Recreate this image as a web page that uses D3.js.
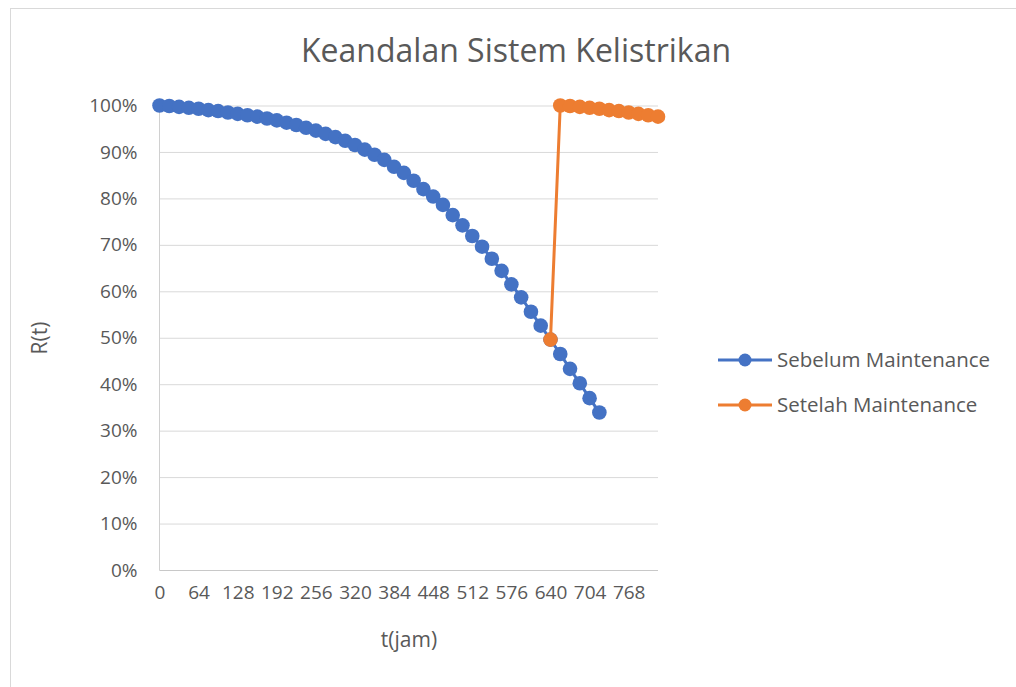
<!DOCTYPE html>
<meta charset="utf-8">
<style>
body { margin: 0; background: #fff; }
text { font-family: "Open Sans", sans-serif; fill: #595959; }
.title { font-size: 32px; }
.tick text { font-size: 19px; fill: #595959; }
.axis-title { font-size: 21px; }
.legend text { font-size: 20.5px; }
</style>
<svg width="1016" height="687"></svg>
<script src="https://cdn.jsdelivr.net/npm/d3@7"></script>
<script>

// t (jam) every 16 hours
var hours = d3.range(0, 832, 16);

// reliability before maintenance, %
var sebelum = [100.0, 99.9, 99.7, 99.5, 99.3, 99.0, 98.8, 98.5, 98.2, 97.9,
  97.6, 97.2, 96.8, 96.3, 95.8, 95.2, 94.6, 93.9, 93.2, 92.4,
  91.5, 90.5, 89.4, 88.3, 86.8, 85.5, 83.8, 82.0, 80.4, 78.6,
  76.4, 74.2, 71.9, 69.6, 67.0, 64.4, 61.5, 58.7, 55.6, 52.6,
  49.6, 46.5, 43.3, 40.2, 37.0, 33.9];

// reliability after maintenance (starts at index 40)
var setelahStart = 40;
var setelah = [49.6, 100.0, 99.9, 99.7, 99.5, 99.3, 99.0, 98.8, 98.5, 98.2, 97.9, 97.6];

var seriesNames = ["Sebelum Maintenance", "Setelah Maintenance"];
var colors = ["#4472C4", "#ED7D31"];
var yTicks = [0, 10, 20, 30, 40, 50, 60, 70, 80, 90, 100];

var svg = d3.select("svg");

// chart frame
svg.append("rect")
    .attr("x", 10.5).attr("y", 8.5)
    .attr("width", 1012).attr("height", 700)
    .attr("fill", "#fff").attr("stroke", "#d9d9d9");

var x = d3.scalePoint()
    .domain(d3.range(hours.length))
    .range([159.5, 658]);

var y = d3.scaleLinear()
    .domain([0, 100])
    .range([570, 105.5]);

// y axis + gridlines
var yAxis = svg.append("g")
    .attr("transform", "translate(159.5,0)")
    .call(d3.axisLeft(y)
      .tickValues(yTicks)
      .tickSize(-(658 - 159.5))
      .tickPadding(22)
      .tickFormat(function(d) { return d + "%"; }));
yAxis.select(".domain").remove();
yAxis.selectAll(".tick line").attr("stroke", "#d9d9d9");

// x axis
var xAxis = svg.append("g")
    .attr("transform", "translate(0,570)")
    .call(d3.axisBottom(x)
      .tickValues(d3.range(0, hours.length, 4))
      .tickSize(0)
      .tickPadding(16)
      .tickFormat(function(i) { return hours[i]; }));
xAxis.select(".domain").remove();

// axis lines
svg.append("line")
    .attr("x1", 159.5).attr("x2", 159.5).attr("y1", 105.5).attr("y2", 570)
    .attr("stroke", "#d0d0d0");
svg.append("line")
    .attr("x1", 159.5).attr("x2", 658).attr("y1", 570.5).attr("y2", 570.5)
    .attr("stroke", "#c8c8c8");

var line = d3.line()
    .x(function(d) { return x(d.i); })
    .y(function(d) { return y(d.v); });

var data = [
  sebelum.map(function(v, i) { return {i: i, v: v}; }),
  setelah.map(function(v, i) { return {i: i + setelahStart, v: v}; })
];

data.forEach(function(s, k) {
  var g = svg.append("g");
  g.append("path")
      .datum(s)
      .attr("fill", "none")
      .attr("stroke", colors[k])
      .attr("stroke-width", 3)
      .attr("d", line);
  g.selectAll("circle")
    .data(s)
    .enter().append("circle")
      .attr("cx", function(d) { return x(d.i); })
      .attr("cy", function(d) { return y(d.v); })
      .attr("r", 7.3)
      .attr("fill", colors[k]);
});

// title
svg.append("text")
    .attr("class", "title")
    .attr("x", 516).attr("y", 62)
    .attr("text-anchor", "middle")
    .text("Keandalan Sistem Kelistrikan");

// axis titles
svg.append("text")
    .attr("class", "axis-title")
    .attr("x", 409).attr("y", 647)
    .attr("text-anchor", "middle")
    .text("t(jam)");
svg.append("text")
    .attr("class", "axis-title")
    .attr("transform", "translate(47,338) rotate(-90)")
    .attr("text-anchor", "middle")
    .text("R(t)");

// legend
var legend = svg.append("g").attr("class", "legend");
seriesNames.forEach(function(name, k) {
  var ly = 360 + k * 45;
  legend.append("line")
      .attr("x1", 718).attr("x2", 772).attr("y1", ly).attr("y2", ly)
      .attr("stroke", colors[k]).attr("stroke-width", 3);
  legend.append("circle")
      .attr("cx", 745).attr("cy", ly).attr("r", 6.5)
      .attr("fill", colors[k]);
  legend.append("text")
      .attr("x", 777).attr("y", ly)
      .attr("dy", "0.35em")
      .text(name);
});

</script>
